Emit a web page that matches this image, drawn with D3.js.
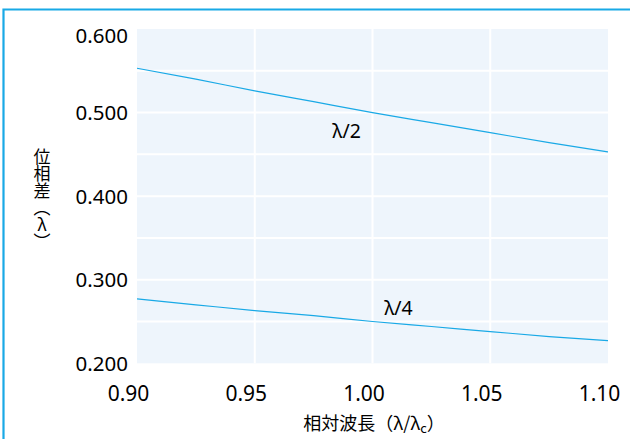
<!DOCTYPE html>
<html>
<head>
<meta charset="utf-8">
<script src="https://cdn.jsdelivr.net/npm/d3@7"></script>
<style>
  html, body { margin: 0; padding: 0; background: #fff; }
  svg { display: block; }
</style>
</head>
<body>
<svg id="chart" width="630" height="439"></svg>
<script>
// ---- data ----
const wavelengths = [0.900, 0.925, 0.950, 0.975, 1.000, 1.025, 1.050, 1.075, 1.100];
const halfWave    = [0.553, 0.540, 0.526, 0.513, 0.500, 0.488, 0.476, 0.464, 0.453];
const quarterWave = [0.277, 0.270, 0.263, 0.257, 0.250, 0.244, 0.238, 0.232, 0.227];
const seriesLabels = ["λ/2", "λ/4"];
const labelPositions = [[0.989, 0.470], [1.011, 0.258]]; // data coords of series labels
const xTicks = [0.90, 0.95, 1.00, 1.05, 1.10];
const yTicks = [0.200, 0.300, 0.400, 0.500, 0.600];
const yGrid  = [0.25, 0.30, 0.35, 0.40, 0.45, 0.50, 0.55];
const xGrid  = [0.95, 1.00, 1.05];
const xTitle = "相対波長（λ/λ";
const xTitleSub = "C";
const yTitle = "位相差（λ）";

// ---- layout ----
const svg = d3.select("#chart");
const L = 137, R = 608, T = 29, B = 363.3;
const x = d3.scaleLinear().domain([0.9, 1.1]).range([L, R]);
const y = d3.scaleLinear().domain([0.2, 0.6]).range([B, T]);
const blue = "#19a9e6";

// frame
svg.append("path")
  .attr("d", `M3.5,439 L3.5,9.5 L630,9.5`)
  .attr("fill", "none").attr("stroke", blue).attr("stroke-width", 2.2);

// plot background
svg.append("rect").attr("x", L).attr("y", T).attr("width", R - L).attr("height", B - T)
  .attr("fill", "#eef5fc");

// grid
svg.append("g").selectAll("line").data(yGrid).join("line")
  .attr("x1", L).attr("x2", R).attr("y1", d => y(d)).attr("y2", d => y(d))
  .attr("stroke", "#fff").attr("stroke-width", 2);
svg.append("g").selectAll("line").data(xGrid).join("line")
  .attr("y1", T).attr("y2", B).attr("x1", d => x(d)).attr("x2", d => x(d))
  .attr("stroke", "#fff").attr("stroke-width", 2);

// axes (labels only)
const yAxis = svg.append("g").attr("transform", `translate(${L},0)`)
  .call(d3.axisLeft(y).tickValues(yTicks).tickFormat(d3.format(".3f")).tickSize(0).tickPadding(9));
yAxis.select(".domain").remove();
yAxis.selectAll("text")
  .attr("font-family", "'Noto Sans', sans-serif").attr("font-size", 20.5).attr("fill", "#000")
  .attr("dy", d => d === 0.6 ? "0.65em" : "0.34em");

const xAxis = svg.append("g").attr("transform", `translate(0,${B})`)
  .call(d3.axisBottom(x).tickValues(xTicks).tickFormat(d3.format(".2f")).tickSize(0).tickPadding(23));
xAxis.select(".domain").remove();
xAxis.selectAll("text")
  .attr("font-family", "'Noto Sans', sans-serif").attr("font-size", 21).attr("fill", "#000")
  .attr("dx", -9);

// lines
const line = d3.line().x((d, i) => x(wavelengths[i])).y(d => y(d)).curve(d3.curveMonotoneX);
[halfWave, quarterWave].forEach(s => {
  svg.append("path").attr("d", line(s)).attr("fill", "none")
    .attr("stroke", blue).attr("stroke-width", 1.2);
});

// series labels
svg.append("g").selectAll("text").data(seriesLabels).join("text")
  .attr("x", (d, i) => x(labelPositions[i][0]))
  .attr("y", (d, i) => y(labelPositions[i][1]))
  .attr("text-anchor", "middle")
  .attr("font-family", "'Noto Sans', sans-serif").attr("font-size", 19.5).attr("fill", "#000")
  .text(d => d);

// x title
const xt = svg.append("text").attr("x", 374).attr("y", 430).attr("text-anchor", "middle")
  .attr("font-family", "'Noto Sans CJK JP', sans-serif").attr("font-size", 18).attr("fill", "#000");
xt.append("tspan").text(xTitle);
xt.append("tspan").attr("font-size", 13).attr("dy", 3).text(xTitleSub.toLowerCase());
xt.append("tspan").attr("dy", -3).text("）");

// y title (vertical)
svg.append("text")
  .attr("x", 42).attr("y", 148)
  .style("writing-mode", "vertical-rl")
  .style("text-orientation", "upright")
  .attr("font-family", "'Noto Sans CJK JP', sans-serif").attr("font-size", 17).attr("fill", "#000")
  .text(yTitle);
</script>
</body>
</html>
